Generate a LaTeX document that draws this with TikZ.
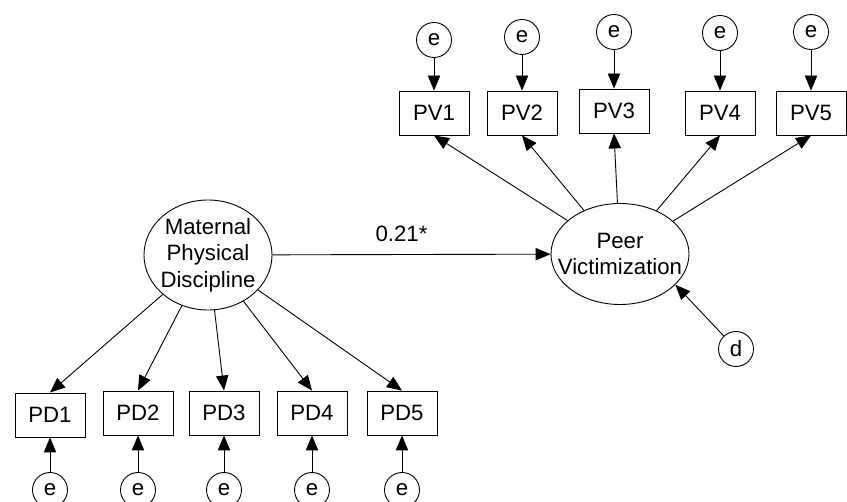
\documentclass[tikz,border=0pt]{standalone}
\usepackage{fontspec}
\setmainfont{Liberation Sans}
\usepackage{tikz}
\usetikzlibrary{shapes,arrows.meta,positioning}

\begin{document}
\begin{tikzpicture}[x=0.5pt, y=-0.5pt, line width=0.45pt,
    font=\fontsize{11.1}{13.3}\selectfont,
    indicator/.style={draw, rectangle, minimum width=35pt, minimum height=22pt, inner sep=0pt},
    latent/.style={draw, ellipse, inner sep=-7pt, align=center},
    errnode/.style={draw, circle, minimum size=17.5pt, inner sep=0pt},
    load/.style={-{Triangle[length=7.5pt, width=6.2pt]}}]
    \clip (0,0) rectangle (847,502);

    % Latent factors
    \node[latent, minimum width=64pt, minimum height=55pt] (mpd) at (208,255) {Maternal\\Physical\\Discipline};
    \node[latent, minimum width=69pt, minimum height=50.5pt] (pv) at (620,254) {Peer\\Victimization};

    % Peer victimization indicators
    \node[indicator] (pv1) at (434,113) {PV1};
    \node[indicator] (pv2) at (522,113) {PV2};
    \node[indicator] (pv3) at (614,111) {PV3};
    \node[indicator] (pv4) at (720,113) {PV4};
    \node[indicator] (pv5) at (811,113) {PV5};

    \node[errnode] (epv1) at (434,40) {e};
    \node[errnode] (epv2) at (522,37) {e};
    \node[errnode] (epv3) at (614,32) {e};
    \node[errnode] (epv4) at (720,33) {e};
    \node[errnode] (epv5) at (811,32) {e};

    % Physical discipline indicators
    \node[indicator] (pd1) at (50,415) {PD1};
    \node[indicator] (pd2) at (138,413) {PD2};
    \node[indicator] (pd3) at (224,413) {PD3};
    \node[indicator] (pd4) at (312,413) {PD4};
    \node[indicator] (pd5) at (402,413) {PD5};

    \node[errnode] (epd1) at (50,490) {e};
    \node[errnode] (epd2) at (138,490) {e};
    \node[errnode] (epd3) at (224,490) {e};
    \node[errnode] (epd4) at (312,490) {e};
    \node[errnode] (epd5) at (402,490) {e};

    % Disturbance
    \node[errnode] (dist) at (736,349) {d};

    % Structural path
    \draw[load] (mpd) -- node[above=3pt, xshift=-5pt] {0.21*} (pv);
    \draw[load] (dist) -- (pv.-29);

    % Loadings
    \draw[load] (pv) -- (pv1.south);
    \draw[load] (pv) -- (pv2.south);
    \draw[load] (pv) -- (pv3.south);
    \draw[load] (pv) -- (pv4.south);
    \draw[load] (pv) -- (pv5.south);

    \draw[load] (mpd) -- (pd1.north);
    \draw[load] (mpd) -- (pd2.north);
    \draw[load] (mpd) -- (pd3.north);
    \draw[load] (mpd) -- (pd4.north);
    \draw[load] (mpd) -- (pd5.north);

    % Residuals
    \draw[load] (epv1) -- (pv1);
    \draw[load] (epv2) -- (pv2);
    \draw[load] (epv3) -- (pv3);
    \draw[load] (epv4) -- (pv4);
    \draw[load] (epv5) -- (pv5);

    \draw[load] (epd1) -- (pd1);
    \draw[load] (epd2) -- (pd2);
    \draw[load] (epd3) -- (pd3);
    \draw[load] (epd4) -- (pd4);
    \draw[load] (epd5) -- (pd5);
\end{tikzpicture}
\end{document}
